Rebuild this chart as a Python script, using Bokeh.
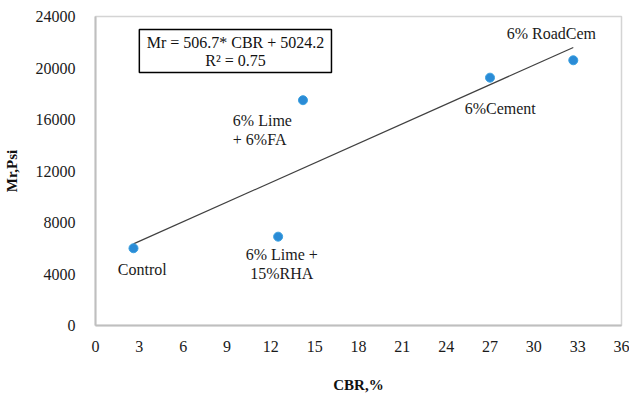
import numpy as np
from bokeh.plotting import figure
from bokeh.models import Range1d, FixedTicker, ColumnDataSource
from bokeh.core.properties import value
from bokeh.embed import file_html
from bokeh.resources import INLINE

# data
names = ["Control", "6% Lime + 15%RHA", "6% Lime + 6%FA", "6%Cement", "6% RoadCem"]
cbr = [2.6, 12.5, 14.2, 27.0, 32.7]
mr = [6000, 6900, 17500, 19250, 20600]
slope = 506.7
intercept = 5024.2
r2 = 0.75
x_ticks = [0, 3, 6, 9, 12, 15, 18, 21, 24, 27, 30, 33, 36]
y_ticks = [0, 4000, 8000, 12000, 16000, 20000, 24000]

FONT = "Liberation Serif"

p = figure(width=629, height=397, output_backend="svg", toolbar_location=None,
           x_range=Range1d(0, 36), y_range=Range1d(0, 24000),
           min_border_left=95, min_border_right=8, min_border_top=16, min_border_bottom=72)
p.background_fill_color = "white"
p.border_fill_color = "white"
p.outline_line_color = "#d4d4d4"
p.outline_line_width = 1.5
p.grid.visible = False

for ax in (p.xaxis, p.yaxis):
    ax.axis_line_color = "#bfbfbf"
    ax.axis_line_width = 2
    ax.major_tick_line_color = None
    ax.minor_tick_line_color = None
    ax.major_label_text_font = FONT
    ax.major_label_text_font_size = "16px"
    ax.major_label_text_color = "#1a1a1a"
    ax.axis_label_text_font = FONT
    ax.axis_label_text_font_size = "15px"
    ax.axis_label_text_font_style = "bold"
    ax.axis_label_text_color = "#111111"

p.xaxis.ticker = FixedTicker(ticks=x_ticks)
p.yaxis.ticker = FixedTicker(ticks=y_ticks)
p.xaxis.major_label_standoff = 9
p.yaxis.major_label_standoff = 14
p.xaxis.axis_label = "CBR,%"
p.yaxis.axis_label = "Mr,Psi"
p.xaxis.axis_label_standoff = 22
p.yaxis.axis_label_standoff = 13

# trend line
xs = np.array([min(cbr), max(cbr)])
p.line(xs, slope * xs + intercept, line_color="#404040", line_width=1.2)

# points
p.scatter(cbr, mr, size=9, fill_color="#2a8bd6", line_color="#3aa0e0", line_width=1)

# point labels
lab = ColumnDataSource(dict(
    x=[3.2, 12.75, 12.75, 9.4, 9.4, 27.7, 31.2],
    y=[4350, 5500, 4050, 15900, 14450, 16850, 22680],
    t=["Control", "6% Lime +", "15%RHA", "6% Lime", "+ 6%FA", "6%Cement", "6% RoadCem"],
    a=["center", "center", "center", "left", "left", "center", "center"],
))
p.text(x="x", y="y", text="t", text_align="a", source=lab, text_baseline="middle",
       text_font=value(FONT), text_font_size="16px", text_color="#1a1a1a")

# equation box
p.quad(left=[3.0], right=[16.15], top=[22990], bottom=[19650],
       fill_color="white", line_color="black", line_width=1.5)
eq = ColumnDataSource(dict(
    x=[9.58, 9.58], y=[21950, 20550],
    t=[f"Mr = {slope}* CBR + {intercept}", f"R² = {r2}"],
))
p.text(x="x", y="y", text="t", source=eq, text_align="center", text_baseline="middle",
       text_font=value(FONT), text_font_size="16px", text_color="#111111")

open("out.html", "w").write(file_html(p, INLINE))
